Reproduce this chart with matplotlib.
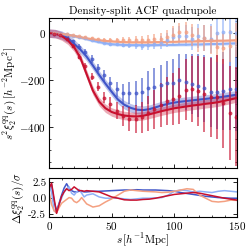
import numpy as np
import matplotlib
matplotlib.use("Agg")
from matplotlib import pyplot as plt
from matplotlib.ticker import AutoMinorLocator, MultipleLocator, FormatStrFormatter

plt.rcParams['font.family'] = 'serif'
plt.rcParams['font.serif'] = ['cmr10', 'DejaVu Serif']
plt.rcParams['mathtext.fontset'] = 'cm'
plt.rcParams['axes.formatter.use_mathtext'] = True
plt.rcParams['axes.unicode_minus'] = True
plt.rcParams['font.size'] = 8

# quintile colours (DS1 ... DS4)
colors = ['#4055c8', '#8fb0f7', '#f4a081', '#c8102e']

# measured points
s_data = [4, 9, 14, 19, 24, 29, 34, 39, 44, 49, 54, 59, 64, 69, 74,
          79, 84, 89, 94, 99, 104, 109, 114, 119, 124, 129, 134, 139, 144, 149]

ds1_data = [-2, -5, -15, -35, -58, -80, -110, -148, -180, -212, -240, -257, -257, -257, -252,
            -233, -228, -221, -214, -211, -200, -209, -216, -224, -235, -250, -250, -247, -238, -237]
ds2_data = [0, -2, -5, -10, -16, -22, -28, -35, -42, -46, -48, -50, -50, -52, -55,
            -50, -45, -40, -30, -15, -11, -11, -23, -11, -21, -23, -1, 3, 3, 0]
ds3_data = [0, -2, -5, -9, -14, -18, -22, -25, -28, -30, -30, -28, -28, -28, -28,
            -28, -26, -26, -17, -6, 3, 3, -8, -28, -21, -30, -58, -65, -55, -30]
ds4_data = [-2, -8, -25, -55, -100, -140, -185, -228, -275, -302, -330, -353, -366, -366, -359,
            -342, -325, -306, -288, -281, -267, -241, -237, -247, -260, -274, -271, -299, -339, -356]

ds1_err = [2, 4, 6, 8, 10, 12, 15, 18, 22, 27, 33, 40, 47, 55, 62,
           70, 78, 86, 95, 103, 112, 120, 128, 135, 142, 150, 158, 165, 173, 180]
ds2_err = [1, 1, 2, 2, 3, 3, 4, 5, 6, 7, 8, 10, 12, 14, 17,
           20, 23, 27, 31, 35, 40, 44, 48, 52, 56, 60, 63, 66, 69, 72]
ds3_err = [1, 1, 2, 3, 3, 4, 5, 6, 7, 8, 9, 11, 13, 15, 18,
           21, 24, 28, 32, 36, 40, 44, 48, 52, 56, 60, 63, 66, 69, 72]
ds4_err = [2, 4, 6, 8, 10, 13, 16, 20, 24, 29, 35, 42, 50, 58, 66,
           75, 84, 93, 102, 112, 120, 130, 140, 150, 160, 170, 180, 190, 200, 210]

# model curves
s_model = [0, 5, 10, 15, 20, 25, 30, 35, 40, 45, 50, 55, 60, 65, 70, 75,
           80, 85, 90, 95, 100, 105, 110, 115, 120, 125, 130, 135, 140, 145, 150]
ds1_model = [0, -2, -8, -22, -45, -70, -100, -138, -178, -215, -250, -283, -305, -318, -326, -328,
             -324, -316, -308, -301, -296, -292, -289, -286, -283, -280, -277, -274, -270, -266, -262]
ds2_model = [0, -1, -3, -7, -12, -18, -25, -32, -38, -43, -47, -49, -50, -51, -51, -51,
             -51, -51, -50, -50, -50, -49, -49, -48, -48, -47, -46, -46, -45, -44, -43]
ds3_model = [0, -1, -3, -7, -12, -17, -22, -26, -30, -33, -35, -37, -38, -39, -39, -39,
             -39, -38, -38, -37, -37, -36, -35, -35, -34, -33, -33, -32, -32, -31, -30]
ds4_model = [0, -2, -12, -30, -60, -105, -175, -245, -292, -320, -336, -345, -351, -354, -355, -352,
             -346, -339, -332, -326, -320, -316, -312, -308, -305, -301, -298, -294, -288, -282, -276]
band_width = [18, 6, 6, 18]

# residuals
s_res = [0, 2, 4, 6, 8, 10, 12, 14, 16, 18, 20, 22, 24, 26, 28, 30, 35, 40, 45, 50,
         55, 60, 65, 70, 75, 80, 85, 90, 95, 100, 105, 110, 115, 120, 125, 130, 135, 140, 145, 150]
ds1_res = [2.0, 2.2, -0.5, -2.0, -0.8, 0.5, 1.6, 2.3, 1.6, 1.2, 1.0, 1.0, 1.1, 1.1, 1.0, 1.0, 1.1, 1.1, 1.15, 1.2,
           1.25, 1.3, 1.3, 1.35, 1.3, 1.3, 1.3, 1.25, 1.2, 1.1, 0.9, 0.75, 0.6, 0.45, 0.3, 0.2, 0.1, 0.05, 0.0, 0.0]
ds2_res = [2.0, 1.0, -2.0, -2.3, -1.0, 0.0, 1.0, 1.5, 1.8, 0.8, 0.5, 1.0, 1.4, 0.8, 0.2, 0.5, 0.7, 0.2, 0.0, 0.0,
           0.0, -0.1, -0.2, -0.1, 0.0, 0.0, 0.05, 0.1, 0.5, 1.1, 1.3, 1.2, 1.0, 1.1, 1.0, 0.9, 1.1, 1.2, 1.1, 1.0]
ds3_res = [1.0, -1.0, -2.0, -2.3, -1.5, -0.8, -0.5, -0.2, 0.1, 0.0, -0.5, -0.7, -0.4, 0.1, -0.4, -0.9, -1.4, -1.2, -0.6, -0.1,
           0.5, 1.1, 1.3, 1.2, 1.1, 1.05, 1.0, 0.9, 0.95, 1.1, 1.3, 1.5, 1.4, 0.5, 0.0, -0.5, -0.6, -0.5, -0.3, -0.35]
ds4_res = [1.5, 2.4, 0.0, -2.4, -1.0, 0.3, 1.0, 1.5, 1.2, 1.4, 1.8, 1.5, 1.2, 1.2, 1.1, 1.2, 1.1, 1.0, 0.6, 0.2,
           0.0, -0.25, -0.3, -0.3, -0.2, -0.15, 0.0, 0.2, 0.4, 0.6, 0.7, 0.8, 0.9, 0.8, 0.6, 0.4, 0.2, 0.0, -0.15, -0.3]

data = [ds1_data, ds2_data, ds3_data, ds4_data]
errs = [ds1_err, ds2_err, ds3_err, ds4_err]
models = [ds1_model, ds2_model, ds3_model, ds4_model]
resids = [ds1_res, ds2_res, ds3_res, ds4_res]

fig = plt.figure(figsize=(2.49, 2.49), dpi=100)
ax = fig.add_axes([0.197, 0.325, 0.755, 0.603])
ax2 = fig.add_axes([0.197, 0.128, 0.755, 0.157])

for i in range(4):
    m = np.array(models[i])
    ax.fill_between(s_model, m - band_width[i], m + band_width[i], color=colors[i], alpha=0.35, lw=0)
    ax.plot(s_model, m, color=colors[i], lw=1.5)
    ax.errorbar(s_data, data[i], yerr=errs[i], fmt='o', ms=2.2, color=colors[i],
                mew=0.6, elinewidth=1.2, alpha=0.7, capsize=0)
    ax2.plot(s_res, resids[i], color=colors[i], lw=1.1)

ax.set_xlim(0, 150)
ax.set_ylim(-575, 65)
ax.yaxis.set_major_locator(MultipleLocator(200))
ax.yaxis.set_minor_locator(MultipleLocator(50))
ax.xaxis.set_major_locator(MultipleLocator(50))
ax.xaxis.set_minor_locator(AutoMinorLocator())
ax.set_xticklabels([])
ax.set_ylabel(r'$s^2\xi_2^{\rm qq}(s)\,[h^{-2}{\rm Mpc}^2]$', labelpad=1)
ax.set_title('Density-split ACF quadrupole', fontsize=8, pad=3)

ax2.set_xlim(0, 150)
ax2.set_ylim(-3, 3.2)
ax2.yaxis.set_major_locator(MultipleLocator(2.5))
ax2.xaxis.set_major_locator(MultipleLocator(50))
ax2.xaxis.set_minor_locator(AutoMinorLocator())
ax2.yaxis.set_major_formatter(FormatStrFormatter('%.1f'))
ax2.set_xlabel(r'$s\,[h^{-1}{\rm Mpc}]$', labelpad=0)
ax2.set_ylabel(r'$\Delta\xi_2^{\rm qq}(s)/\sigma$', labelpad=1)

for a in (ax, ax2):
    a.tick_params(which='both', direction='in', top=True, right=True, labelsize=8, pad=2)
    a.tick_params(which='major', length=3, width=0.6)
    a.tick_params(which='minor', length=1.5, width=0.5)
    for sp in a.spines.values():
        sp.set_linewidth(0.8)

fig.savefig('out.png', dpi=100)
